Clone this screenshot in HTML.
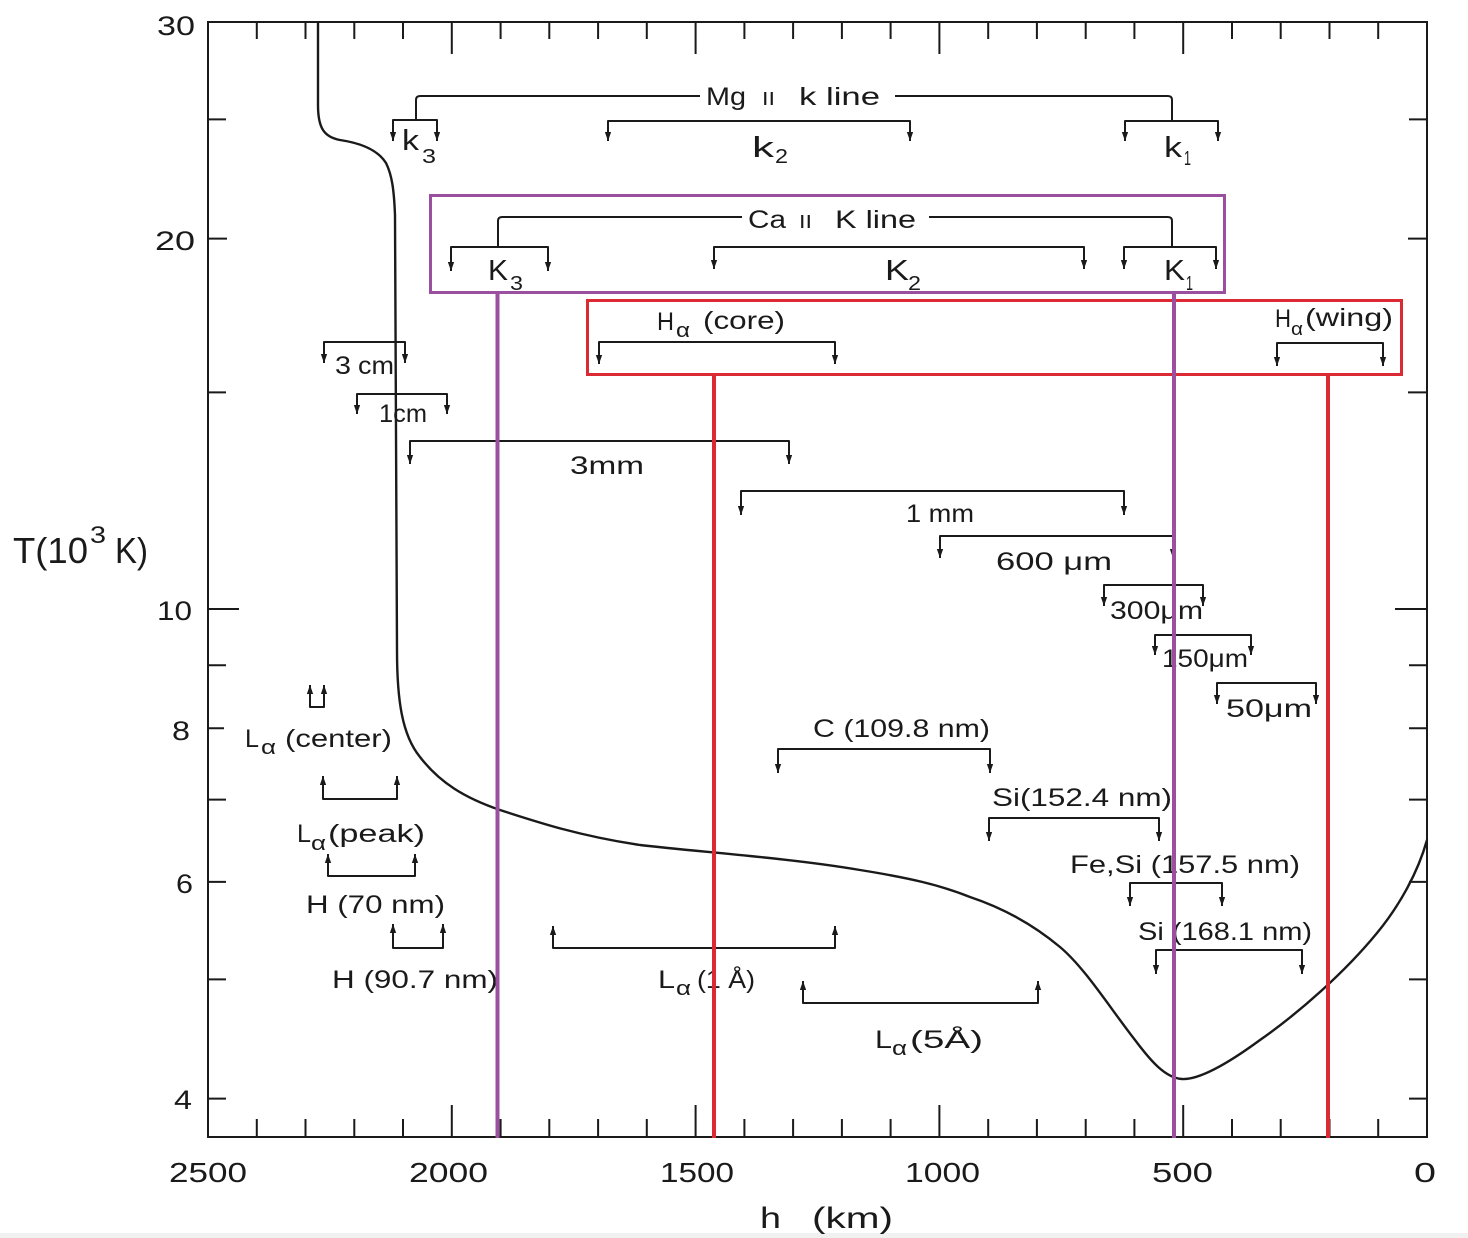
<!DOCTYPE html>
<html>
<head>
<meta charset="utf-8">
<style>
html,body{margin:0;padding:0;background:#fff;}
svg{display:block;}
text{font-family:"Liberation Sans","DejaVu Sans",sans-serif;fill:#1a1a1a;}
</style>
</head>
<body>
<svg width="1468" height="1238" viewBox="0 0 1468 1238" xmlns="http://www.w3.org/2000/svg">
<defs>
<marker id="a" viewBox="0 0 10 10" refX="10" refY="5" markerWidth="9" markerHeight="9" markerUnits="userSpaceOnUse" orient="auto-start-reverse">
<path d="M0,1.5 L10,5 L0,8.5 z" fill="#1a1a1a"/>
</marker>
</defs>
<rect x="0" y="0" width="1468" height="1238" fill="#fff"/>
<rect x="0" y="1233" width="1468" height="5" fill="#f1f1f1"/>

<!-- frame -->
<rect x="208" y="22" width="1219" height="1115" fill="none" stroke="#1a1a1a" stroke-width="2"/>

<!-- top & bottom ticks -->
<g stroke="#1a1a1a" stroke-width="2">
<path d="M256.8,22v17M305.5,22v17M354.3,22v17M403,22v17M451.8,22v32M500.6,22v17M549.3,22v17M598.1,22v17M646.8,22v17M695.6,22v32M744.4,22v17M793.1,22v17M841.9,22v17M890.6,22v17M939.4,22v32M988.2,22v17M1036.9,22v17M1085.7,22v17M1134.4,22v17M1183.2,22v32M1232,22v17M1280.7,22v17M1329.5,22v17M1378.2,22v17"/>
<path d="M256.8,1137v-18M305.5,1137v-18M354.3,1137v-18M403,1137v-18M451.8,1137v-32M500.6,1137v-18M549.3,1137v-18M598.1,1137v-18M646.8,1137v-18M695.6,1137v-32M744.4,1137v-18M793.1,1137v-18M841.9,1137v-18M890.6,1137v-18M939.4,1137v-32M988.2,1137v-18M1036.9,1137v-18M1085.7,1137v-18M1134.4,1137v-18M1183.2,1137v-32M1232,1137v-18M1280.7,1137v-18M1329.5,1137v-18M1378.2,1137v-18"/>
<path d="M208,119.4h18M208,238.6h19M208,392.4h18M208,609h31M208,665.3h18M208,728.2h16M208,799.6h18M208,881.9h18M208,979.4h18M208,1098.6h18"/>
<path d="M1427,119.4h-18M1427,238.6h-19M1427,392.4h-19M1427,609h-32M1427,665.3h-18M1427,728.2h-18M1427,799.6h-18M1427,881.9h-18M1427,979.4h-18M1427,1098.6h-18"/>
</g>

<!-- axis labels -->
<text x="157" y="35" font-size="27" textLength="38" lengthAdjust="spacingAndGlyphs">30</text>
<text x="155" y="250" font-size="27" textLength="40" lengthAdjust="spacingAndGlyphs">20</text>
<text x="157" y="620" font-size="27" textLength="35" lengthAdjust="spacingAndGlyphs">10</text>
<text x="172" y="740" font-size="27" textLength="18" lengthAdjust="spacingAndGlyphs">8</text>
<text x="176" y="893" font-size="27" textLength="17" lengthAdjust="spacingAndGlyphs">6</text>
<text x="174" y="1109" font-size="27" textLength="18" lengthAdjust="spacingAndGlyphs">4</text>

<text x="169" y="1182" font-size="28" textLength="78" lengthAdjust="spacingAndGlyphs">2500</text>
<text x="409" y="1182" font-size="28" textLength="79" lengthAdjust="spacingAndGlyphs">2000</text>
<text x="660" y="1182" font-size="28" textLength="74" lengthAdjust="spacingAndGlyphs">1500</text>
<text x="905" y="1182" font-size="28" textLength="75" lengthAdjust="spacingAndGlyphs">1000</text>
<text x="1152" y="1182" font-size="28" textLength="61" lengthAdjust="spacingAndGlyphs">500</text>
<text x="1414" y="1182" font-size="28" textLength="22" lengthAdjust="spacingAndGlyphs">0</text>

<text x="760" y="1228" font-size="30" textLength="21" lengthAdjust="spacingAndGlyphs">h</text>
<text x="812" y="1228" font-size="30" textLength="81" lengthAdjust="spacingAndGlyphs">(km)</text>

<text x="13" y="563" font-size="36" textLength="75" lengthAdjust="spacingAndGlyphs">T(10</text>
<text x="90" y="543" font-size="24" textLength="16" lengthAdjust="spacingAndGlyphs">3</text>
<text x="115" y="563" font-size="36" textLength="33" lengthAdjust="spacingAndGlyphs">K)</text>

<!-- temperature curve -->
<path d="M318,22 L318,105 C318,128 324,137 340,140 C360,143 378,150 386,163 C392,175 394,190 395,215 L397,650 C397,700 402,735 420,757 C440,783 465,798 500,810 C540,823 580,836 640,845 C700,852 790,858 860,870 C910,878 940,885 970,897 C1000,907 1030,922 1060,947 C1085,968 1110,1008 1135,1040 C1150,1060 1165,1078 1182,1079 C1200,1080 1230,1062 1260,1040 C1300,1012 1345,972 1377,933 C1400,905 1418,872 1427,840" fill="none" stroke="#1a1a1a" stroke-width="2.4"/>

<!-- brackets -->
<g fill="none" stroke="#1a1a1a" stroke-width="2" stroke-linejoin="round">
<path d="M416,120 V100 Q416,96 420,96 H700"/>
<path d="M895,96 H1168 Q1172,96 1172,100 V121"/>
<path d="M393,141 V120 H437 V141" marker-start="url(#a)" marker-end="url(#a)"/>
<path d="M608,141 V121 H910 V141" marker-start="url(#a)" marker-end="url(#a)"/>
<path d="M1125,141 V121 H1218 V141" marker-start="url(#a)" marker-end="url(#a)"/>
<path d="M498,247 V221 Q498,217 502,217 H742"/>
<path d="M929,217 H1168 Q1172,217 1172,221 V247"/>
<path d="M451,271 V247 H548 V271" marker-start="url(#a)" marker-end="url(#a)"/>
<path d="M714,269 V247 H1084 V269" marker-start="url(#a)" marker-end="url(#a)"/>
<path d="M1124,269 V247 H1216 V269" marker-start="url(#a)" marker-end="url(#a)"/>
<path d="M599,364 V342 H835 V364" marker-start="url(#a)" marker-end="url(#a)"/>
<path d="M1277,366 V343 H1383 V366" marker-start="url(#a)" marker-end="url(#a)"/>
<path d="M324,363 V342 H405 V363" marker-start="url(#a)" marker-end="url(#a)"/>
<path d="M357,414 V394 H447 V414" marker-start="url(#a)" marker-end="url(#a)"/>
<path d="M410,464 V441 H789 V464" marker-start="url(#a)" marker-end="url(#a)"/>
<path d="M741,515 V491 H1124 V515" marker-start="url(#a)" marker-end="url(#a)"/>
<path d="M940,558 V536 H1173 V558" marker-start="url(#a)" marker-end="url(#a)"/>
<path d="M1104,606 V585 H1203 V606" marker-start="url(#a)" marker-end="url(#a)"/>
<path d="M1155,655 V635 H1251 V655" marker-start="url(#a)" marker-end="url(#a)"/>
<path d="M1217,704 V683 H1316 V704" marker-start="url(#a)" marker-end="url(#a)"/>
<path d="M778,773 V749 H990 V773" marker-start="url(#a)" marker-end="url(#a)"/>
<path d="M989,841 V818 H1159 V841" marker-start="url(#a)" marker-end="url(#a)"/>
<path d="M1130,906 V883 H1222 V906" marker-start="url(#a)" marker-end="url(#a)"/>
<path d="M1156,974 V950 H1302 V974" marker-start="url(#a)" marker-end="url(#a)"/>
<path d="M310,685 V707 H324 V685" marker-start="url(#a)" marker-end="url(#a)"/>
<path d="M323,776 V799 H397 V776" marker-start="url(#a)" marker-end="url(#a)"/>
<path d="M328,854 V876 H415 V854" marker-start="url(#a)" marker-end="url(#a)"/>
<path d="M393,924 V948 H443 V924" marker-start="url(#a)" marker-end="url(#a)"/>
<path d="M553,926 V948 H835 V926" marker-start="url(#a)" marker-end="url(#a)"/>
<path d="M803,981 V1003 H1038 V981" marker-start="url(#a)" marker-end="url(#a)"/>
</g>

<!-- bracket labels -->
<g font-size="25">
<text x="706" y="105" textLength="40" lengthAdjust="spacingAndGlyphs">Mg</text>
<text x="762" y="105" font-size="18" textLength="13" lengthAdjust="spacingAndGlyphs">II</text>
<text x="799" y="105" textLength="81" lengthAdjust="spacingAndGlyphs">k line</text>

<text x="748" y="228" textLength="38" lengthAdjust="spacingAndGlyphs">Ca</text>
<text x="799" y="228" font-size="18" textLength="13" lengthAdjust="spacingAndGlyphs">II</text>
<text x="835" y="228" textLength="81" lengthAdjust="spacingAndGlyphs">K line</text>

<text x="402" y="150" font-size="29" textLength="17" lengthAdjust="spacingAndGlyphs">k</text>
<text x="422" y="163" font-size="20" textLength="14" lengthAdjust="spacingAndGlyphs">3</text>
<text x="752" y="157" font-size="29" textLength="22" lengthAdjust="spacingAndGlyphs">k</text>
<text x="775" y="163" font-size="20" textLength="13" lengthAdjust="spacingAndGlyphs">2</text>
<text x="1164" y="157" font-size="29" textLength="18" lengthAdjust="spacingAndGlyphs">k</text>
<text x="1184" y="165" font-size="20" textLength="7" lengthAdjust="spacingAndGlyphs">1</text>

<text x="488" y="280" font-size="29" textLength="20" lengthAdjust="spacingAndGlyphs">K</text>
<text x="510" y="290" font-size="20" textLength="13" lengthAdjust="spacingAndGlyphs">3</text>
<text x="885" y="280" font-size="29" textLength="24" lengthAdjust="spacingAndGlyphs">K</text>
<text x="908" y="290" font-size="20" textLength="13" lengthAdjust="spacingAndGlyphs">2</text>
<text x="1164" y="280" font-size="29" textLength="21" lengthAdjust="spacingAndGlyphs">K</text>
<text x="1186" y="290" font-size="20" textLength="7" lengthAdjust="spacingAndGlyphs">1</text>

<text x="657" y="330" textLength="17" lengthAdjust="spacingAndGlyphs">H</text>
<text x="676" y="337" font-size="20" textLength="14" lengthAdjust="spacingAndGlyphs">α</text>
<text x="703" y="329" textLength="82" lengthAdjust="spacingAndGlyphs">(core)</text>
<text x="1275" y="327" textLength="16" lengthAdjust="spacingAndGlyphs">H</text>
<text x="1291" y="335" font-size="18" textLength="12" lengthAdjust="spacingAndGlyphs">α</text>
<text x="1305" y="326" textLength="88" lengthAdjust="spacingAndGlyphs">(wing)</text>

<text x="335" y="374" textLength="16" lengthAdjust="spacingAndGlyphs">3</text>
<text x="358" y="374" textLength="36" lengthAdjust="spacingAndGlyphs">cm</text>
<text x="379" y="422" textLength="48" lengthAdjust="spacingAndGlyphs">1cm</text>
<text x="570" y="474" textLength="74" lengthAdjust="spacingAndGlyphs">3mm</text>
<text x="906" y="522" textLength="68" lengthAdjust="spacingAndGlyphs">1 mm</text>
<text x="996" y="570" textLength="116" lengthAdjust="spacingAndGlyphs">600 μm</text>
<text x="1110" y="619" textLength="93" lengthAdjust="spacingAndGlyphs">300μm</text>
<text x="1162" y="667" textLength="86" lengthAdjust="spacingAndGlyphs">150μm</text>
<text x="1226" y="717" textLength="86" lengthAdjust="spacingAndGlyphs">50μm</text>

<text x="813" y="737" textLength="177" lengthAdjust="spacingAndGlyphs">C (109.8 nm)</text>
<text x="992" y="806" textLength="180" lengthAdjust="spacingAndGlyphs">Si(152.4 nm)</text>
<text x="1070" y="873" textLength="230" lengthAdjust="spacingAndGlyphs">Fe,Si (157.5 nm)</text>
<text x="1138" y="940" textLength="174" lengthAdjust="spacingAndGlyphs">Si (168.1 nm)</text>

<text x="245" y="747" textLength="14" lengthAdjust="spacingAndGlyphs">L</text>
<text x="261" y="754" font-size="20" textLength="15" lengthAdjust="spacingAndGlyphs">α</text>
<text x="285" y="747" textLength="107" lengthAdjust="spacingAndGlyphs">(center)</text>
<text x="297" y="842" textLength="14" lengthAdjust="spacingAndGlyphs">L</text>
<text x="311" y="850" font-size="20" textLength="15" lengthAdjust="spacingAndGlyphs">α</text>
<text x="328" y="842" textLength="97" lengthAdjust="spacingAndGlyphs">(peak)</text>
<text x="306" y="913" textLength="139" lengthAdjust="spacingAndGlyphs">H (70 nm)</text>
<text x="332" y="988" textLength="166" lengthAdjust="spacingAndGlyphs">H (90.7 nm)</text>
<text x="658" y="988" textLength="17" lengthAdjust="spacingAndGlyphs">L</text>
<text x="676" y="995" font-size="20" textLength="15" lengthAdjust="spacingAndGlyphs">α</text>
<text x="697" y="988" textLength="58" lengthAdjust="spacingAndGlyphs">(1 Å)</text>
<text x="875" y="1048" textLength="17" lengthAdjust="spacingAndGlyphs">L</text>
<text x="892" y="1055" font-size="20" textLength="15" lengthAdjust="spacingAndGlyphs">α</text>
<text x="910" y="1048" textLength="73" lengthAdjust="spacingAndGlyphs">(5Å)</text>
</g>

<!-- colored overlays -->
<rect x="430.5" y="195.5" width="794" height="97" fill="none" stroke="#9b4f9f" stroke-width="3"/>
<rect x="587.5" y="300.5" width="814" height="74" fill="none" stroke="#dc2a35" stroke-width="3"/>
<path d="M497.5,293 V1138 M1174,293 V1138" stroke="#9b4f9f" stroke-width="4" fill="none"/>
<path d="M714,375 V1138 M1328,375 V1138" stroke="#dc2a35" stroke-width="4" fill="none"/>
</svg>
</body>
</html>
